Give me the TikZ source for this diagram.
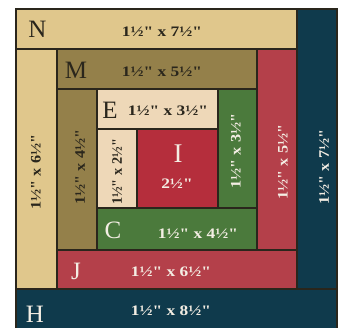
\documentclass[tikz,border=0pt]{standalone}
\usepackage{fontspec}
\setmainfont{Liberation Serif}[Ligatures=TeXOff]
\definecolor{tanc}{HTML}{E0C78C}
\definecolor{olive}{HTML}{94804A}
\definecolor{beige}{HTML}{EED8B8}
\definecolor{grn}{HTML}{4B7A3C}
\definecolor{redj}{HTML}{B4404A}
\definecolor{crim}{HTML}{B52E3C}
\definecolor{teal}{HTML}{0F3A4C}
\definecolor{edge}{HTML}{2A261C}
\definecolor{lighttxt}{HTML}{F4EEE4}
\tikzset{
  piece/.style={draw=edge, line width=1.4pt},
  letter/.style={font=\fontsize{25}{25}\selectfont, inner sep=0pt},
  dim/.style={font=\fontsize{14.5}{14.5}\selectfont\bfseries, inner sep=0pt, xscale=1.2},
  vdim/.style={font=\fontsize{14.5}{14.5}\selectfont\bfseries, inner sep=0pt, rotate=90, xscale=1.12},
}
\begin{document}
\begin{tikzpicture}[x=1pt,y=-1pt]
\useasboundingbox (0,0) rectangle (344,328);
\fill[white] (0,0) rectangle (344,328);
% pieces
\filldraw[piece, fill=tanc] (16,9) rectangle (297,49);     % N
\filldraw[piece, fill=teal] (297,9) rectangle (337,289);   % right dark
\filldraw[piece, fill=teal] (16,289) rectangle (337,330);  % H
\filldraw[piece, fill=tanc] (16,49) rectangle (57,289);    % left tan
\filldraw[piece, fill=olive] (57,49) rectangle (257,89);   % M
\filldraw[piece, fill=redj] (257,49) rectangle (297,250);  % right red
\filldraw[piece, fill=redj] (57,250) rectangle (297,289);  % J
\filldraw[piece, fill=olive] (57,89) rectangle (97,250);   % M vertical
\filldraw[piece, fill=beige] (97,89) rectangle (218,129);  % E
\filldraw[piece, fill=grn] (218,89) rectangle (257,208);   % green vertical
\filldraw[piece, fill=grn] (97,208) rectangle (257,250);   % C
\filldraw[piece, fill=beige] (97,129) rectangle (137,208); % small tan
\filldraw[piece, fill=crim] (137,129) rectangle (218,208); % I
% labels
\node[letter, text=edge] (lN) at (37.5,29.5) {N};
\node[dim, text=edge] (dN) at (162,32) {1½" x 7½"};
\node[letter, text=edge] (lM) at (76,70) {M};
\node[dim, text=edge] (dM) at (162,72) {1½" x 5½"};
\node[letter, text=edge] (lE) at (110,110) {E};
\node[dim, text=edge] (dE) at (168,111) {1½" x 3½"};
\node[letter, text=lighttxt, font=\fontsize{27}{27}\selectfont] (lI) at (178,153.5) {I};
\node[dim, text=lighttxt] (dI) at (177,183.5) {2½"};
\node[letter, text=lighttxt] (lC) at (113,230) {C};
\node[dim, text=lighttxt] (dC) at (198,234) {1½" x 4½"};
\node[letter, text=lighttxt] (lJ) at (76,271) {J};
\node[dim, text=lighttxt] (dJ) at (171,272) {1½" x 6½"};
\node[letter, text=lighttxt] (lH) at (35,314) {H};
\node[dim, text=lighttxt] (dH) at (171,311) {1½" x 8½"};
\node[vdim, text=edge] (dLeft) at (36,172) {1½" x 6½"};
\node[vdim, text=edge] (dMv) at (80,167) {1½" x 4½"};
\node[vdim, text=edge, xscale=0.88] (dSm) at (117,172) {1½" x 2½"};
\node[vdim, text=lighttxt] (dG) at (236,151) {1½" x 3½"};
\node[vdim, text=lighttxt] (dR) at (283,162) {1½" x 5½"};
\node[vdim, text=lighttxt] (dT) at (324,167) {1½" x 7½"};
\end{tikzpicture}
\end{document}
